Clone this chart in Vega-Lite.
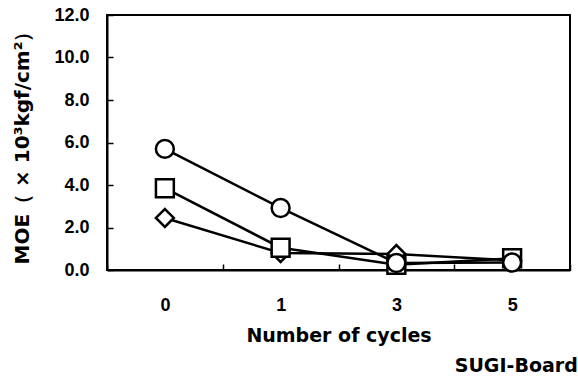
{
  "$schema": "https://vega.github.io/schema/vega-lite/v6.json",
  "width": 463,
  "height": 255,
  "autosize": "none",
  "padding": {"left": 107, "top": 15, "right": 8, "bottom": 109},
  "background": "white",
  "title": {
    "text": "SUGI-Board",
    "orient": "bottom",
    "anchor": "end",
    "font": "DejaVu Sans",
    "fontSize": 19,
    "fontWeight": "bold",
    "color": "black",
    "offset": 12,
    "dx": 7
  },
  "data": {
    "values": [
      {"cycle": "0", "series": "diamond", "moe": 2.45},
      {"cycle": "1", "series": "diamond", "moe": 0.8},
      {"cycle": "3", "series": "diamond", "moe": 0.75},
      {"cycle": "5", "series": "diamond", "moe": 0.45},
      {"cycle": "0", "series": "square", "moe": 3.85},
      {"cycle": "1", "series": "square", "moe": 1.05},
      {"cycle": "3", "series": "square", "moe": 0.25},
      {"cycle": "5", "series": "square", "moe": 0.55},
      {"cycle": "0", "series": "circle", "moe": 5.7},
      {"cycle": "1", "series": "circle", "moe": 2.92},
      {"cycle": "3", "series": "circle", "moe": 0.33},
      {"cycle": "5", "series": "circle", "moe": 0.35}
    ]
  },
  "encoding": {
    "x": {
      "field": "cycle",
      "type": "ordinal",
      "sort": ["0", "1", "3", "5"],
      "scale": {"type": "band", "paddingInner": 0, "paddingOuter": 0},
      "axis": {
        "title": "Number of cycles",
        "labelAngle": 0,
        "tickBand": "extent",
        "tickSize": -6,
        "labelPadding": 32,
        "titlePadding": 12
      }
    },
    "y": {
      "field": "moe",
      "type": "quantitative",
      "scale": {"domain": [0, 12], "nice": false},
      "axis": {
        "title": "MOE（ × 10³kgf/cm²）",
        "values": [0, 2, 4, 6, 8, 10, 12],
        "format": ".1f",
        "grid": false,
        "tickSize": -6,
        "labelPadding": 24,
        "titlePadding": 21,
        "titleFontSize": 20
      }
    }
  },
  "layer": [
    {
      "mark": {"type": "line", "color": "black", "strokeWidth": 2.5},
      "encoding": {"detail": {"field": "series"}}
    },
    {
      "mark": {"type": "point", "filled": true, "fill": "white", "stroke": "black", "strokeWidth": 2.5, "size": 320, "opacity": 1},
      "encoding": {
        "shape": {
          "field": "series",
          "type": "nominal",
          "scale": {"domain": ["diamond", "square", "circle"], "range": ["diamond", "square", "circle"]},
          "legend": null
        }
      }
    }
  ],
  "config": {
    "view": {"stroke": "black", "strokeWidth": 2},
    "axis": {
      "labelFont": "Liberation Sans",
      "labelFontSize": 18,
      "labelFontWeight": "bold",
      "labelColor": "black",
      "titleFont": "DejaVu Sans",
      "titleFontSize": 19,
      "titleFontWeight": "bold",
      "titleColor": "black",
      "domainColor": "black",
      "domainWidth": 2,
      "tickColor": "black",
      "tickWidth": 1.5
    }
  }
}
